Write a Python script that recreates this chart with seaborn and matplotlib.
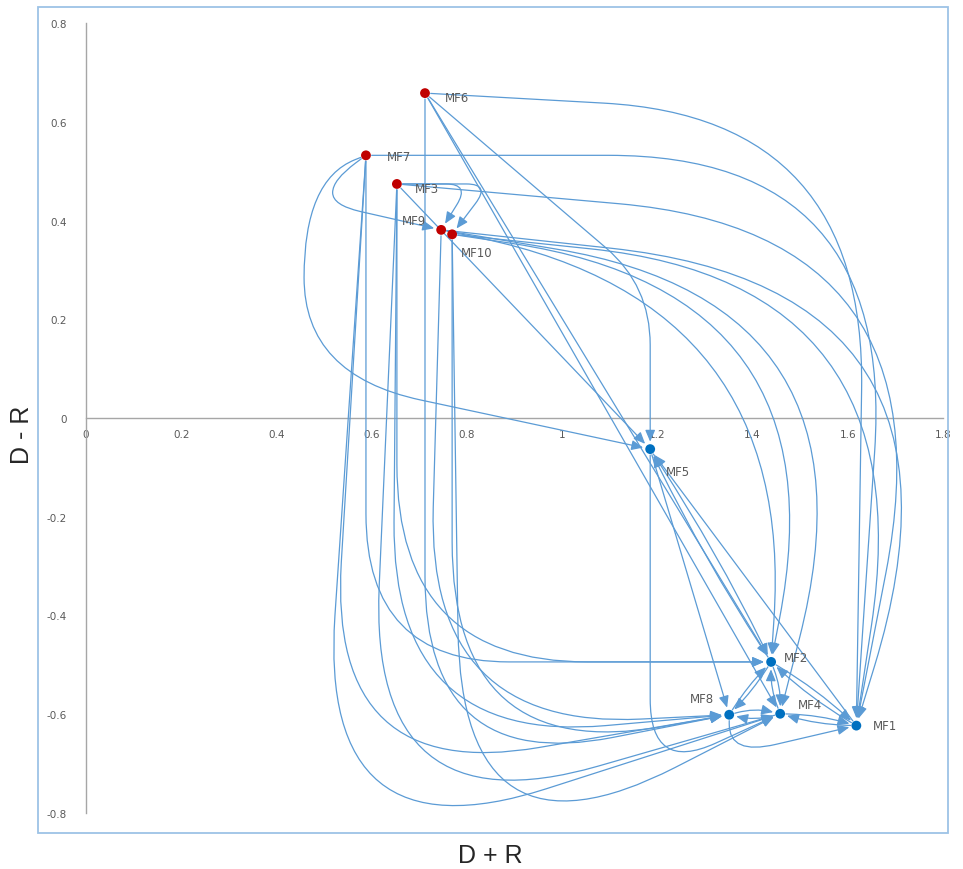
import numpy as np
import pandas as pd
import matplotlib
matplotlib.use("Agg")
import matplotlib.pyplot as plt
from matplotlib.patches import FancyArrowPatch, Rectangle
from matplotlib.path import Path
from matplotlib.ticker import FuncFormatter
import seaborn as sns

# DEMATEL cause-effect values
factors = ["MF1", "MF2", "MF3", "MF4", "MF5", "MF6", "MF7", "MF8", "MF9", "MF10"]
d_plus_r = [1.618, 1.439, 0.653, 1.458, 1.185, 0.712, 0.588, 1.351, 0.746, 0.769]
d_minus_r = [-0.623, -0.494, 0.474, -0.599, -0.063, 0.658, 0.532, -0.601, 0.381, 0.372]
group = ["Cause" if v > 0 else "Effect" for v in d_minus_r]

# influence relations (source -> target)
edges = [
    ("MF6", "MF5"), ("MF6", "MF2"), ("MF6", "MF4"), ("MF6", "MF1"), ("MF6", "MF8"),
    ("MF7", "MF5"), ("MF7", "MF9"), ("MF7", "MF2"), ("MF7", "MF8"), ("MF7", "MF4"), ("MF7", "MF1"),
    ("MF3", "MF9"), ("MF3", "MF10"), ("MF3", "MF8"), ("MF3", "MF2"), ("MF3", "MF4"),
    ("MF3", "MF1"), ("MF3", "MF5"),
    ("MF9", "MF2"), ("MF9", "MF4"), ("MF9", "MF1"), ("MF9", "MF8"),
    ("MF10", "MF2"), ("MF10", "MF4"), ("MF10", "MF1"), ("MF10", "MF8"),
    ("MF5", "MF8"), ("MF5", "MF2"), ("MF2", "MF5"), ("MF1", "MF5"), ("MF5", "MF4"),
    ("MF2", "MF8"), ("MF8", "MF2"), ("MF2", "MF4"), ("MF4", "MF2"),
    ("MF2", "MF1"), ("MF1", "MF2"), ("MF4", "MF8"), ("MF8", "MF4"),
    ("MF4", "MF1"), ("MF1", "MF4"), ("MF8", "MF1"),
]

# how each connector is routed (drawing only)
routes = [
    ("hv", dict(e=0.0, s=0.39, r=0.12)), ("line", {}), ("line", {}),
    ("hv", dict(e=0.02, s=0.05, r=0.55)), ("vh", dict(l=0.0, dep=0.12, r=0.4)),
    ("loop", dict(L=0.13, h=0.15, r=0.25)), ("loop", dict(L=0.07, h=0.05, r=0.06)),
    ("vh", dict(l=0.0, dep=0.0, r=0.3)), ("vh", dict(l=0.08, dep=0.14, r=0.45)),
    ("vh", dict(l=0.1, dep=0.3, r=0.5)), ("hv", dict(e=0.08, s=0.0, r=0.6)),
    ("hv", dict(e=0.06, s=0.0, r=0.05)), ("hv", dict(e=0.08, s=0.0, r=0.05)),
    ("vh", dict(l=0.01, dep=0.06, r=0.45)), ("vh", dict(l=0.0, dep=0.0, r=0.4)),
    ("vh", dict(l=0.06, dep=0.24, r=0.5)), ("hv", dict(e=0.2, s=0.1, r=0.7)),
    ("line", {}),
    ("hv", dict(e=0.05, s=0.15, r=0.7)), ("hv", dict(e=0.22, s=0.15, r=0.7)),
    ("hv", dict(e=0.28, s=0.12, r=0.8)), ("vh", dict(l=0.03, dep=0.03, r=0.45)),
    ("hv", dict(e=0.15, s=0.12, r=0.7)), ("vh", dict(l=-0.02, dep=0.33, r=0.5)),
    ("hv", dict(e=0.14, s=0.1, r=0.7)), ("vh", dict(l=0.0, dep=0.1, r=0.45)),
    ("line", {}), ("arc", dict(rad=0.03)), ("arc", dict(rad=0.03)), ("line", {}),
    ("vh", dict(l=0.0, dep=0.12, r=0.15)),
    ("arc", dict(rad=0.05)), ("arc", dict(rad=0.05)), ("arc", dict(rad=0.1)), ("arc", dict(rad=0.1)),
    ("arc", dict(rad=0.05)), ("arc", dict(rad=0.05)), ("arc", dict(rad=0.12)), ("arc", dict(rad=0.12)),
    ("arc", dict(rad=0.06)), ("arc", dict(rad=0.06)), ("vh", dict(l=0.0, dep=0.06, r=0.1)),
]

# label offsets in points (dx, dy, ha)
label_pos = {
    "MF1": (12, 0, "left"), "MF2": (9, 3, "left"), "MF3": (13, -3, "left"),
    "MF4": (13, 7, "left"), "MF5": (11, -16, "left"), "MF6": (14, -3, "left"),
    "MF7": (15, -1, "left"), "MF8": (-11, 12, "right"), "MF9": (-11, 7, "right"),
    "MF10": (6, -13, "left"),
}

df = pd.DataFrame({"factor": factors, "D+R": d_plus_r, "D-R": d_minus_r, "group": group})
pos = {f: np.array([x, y]) for f, x, y in zip(factors, d_plus_r, d_minus_r)}

line_col = "#5B9BD5"


def waypoints(kind, A, B, p):
    if kind == "line":
        return [A, B]
    if kind == "arc":
        d = B - A
        n = np.array([-d[1], d[0]])
        return [A, A + d / 2 + n * p["rad"], B]
    if kind == "vh":
        return [A, np.array([A[0] - p["l"], B[1] - p["dep"]]), B]
    if kind == "hv":
        return [A, np.array([B[0] + p["e"], A[1] - p["s"]]), B]
    if kind == "loop":
        x = A[0] - p["L"]
        return [A, np.array([x, A[1] - 0.05]), np.array([x, B[1] + p["h"]]), B]


def rounded_path(pts, r, sA=0.012, sB=0.015):
    pts = [np.asarray(q, float) for q in pts]
    u = (pts[1] - pts[0]) / np.linalg.norm(pts[1] - pts[0])
    pts[0] = pts[0] + u * sA
    u = (pts[-1] - pts[-2]) / np.linalg.norm(pts[-1] - pts[-2])
    pts[-1] = pts[-1] - u * sB
    verts, codes = [pts[0]], [Path.MOVETO]
    n = len(pts)
    for i in range(1, n - 1):
        Q, P, R = pts[i - 1], pts[i], pts[i + 1]
        lq, lr = np.linalg.norm(Q - P), np.linalg.norm(R - P)
        d1 = min(r, lq * (0.9 if i == 1 else 0.5))
        d2 = min(r, lr * (0.9 if i == n - 2 else 0.5))
        P1 = P + (Q - P) / lq * d1
        P2 = P + (R - P) / lr * d2
        verts += [P1, P, P2]
        codes += [Path.LINETO, Path.CURVE3, Path.CURVE3]
    verts.append(pts[-1])
    codes.append(Path.LINETO)
    return Path(np.array(verts), codes)


sns.set_theme(style="white")
fig = plt.figure(figsize=(9.63, 8.70), dpi=100)
ax = fig.add_axes([86 / 963, 56 / 870, 857 / 963, 790 / 870])

for (src, tgt), (kind, p) in zip(edges, routes):
    pts = waypoints(kind, pos[src], pos[tgt], p)
    r = p.get("r", 1.0)
    arrow = FancyArrowPatch(path=rounded_path(pts, r),
                            arrowstyle="-|>,head_length=0.7,head_width=0.3",
                            mutation_scale=10, color=line_col, lw=0.9, zorder=3)
    ax.add_patch(arrow)

sns.scatterplot(data=df, x="D+R", y="D-R", hue="group",
                palette={"Cause": "#C00000", "Effect": "#0070C0"},
                s=50, edgecolor="none", legend=False, zorder=5, ax=ax)

for f in factors:
    dx, dy, ha = label_pos[f]
    ax.annotate(f, pos[f], xytext=(dx, dy), textcoords="offset points",
                ha=ha, va="center", fontsize=8.5, color="#595959", zorder=6)

ax.set_xlim(0, 1.8)
ax.set_ylim(-0.8, 0.8)
ax.set_xticks(np.arange(0, 1.81, 0.2))
ax.set_yticks(np.arange(-0.8, 0.81, 0.2))
fmt = FuncFormatter(lambda v, _: "0" if abs(v) < 1e-9 else f"{round(v, 1):g}")
ax.xaxis.set_major_formatter(fmt)
ax.yaxis.set_major_formatter(fmt)
ax.tick_params(length=0, colors="#595959", labelsize=7.5)
ax.tick_params(axis="x", pad=8)
ax.tick_params(axis="y", pad=14)
ax.spines["left"].set_position(("data", 0))
ax.spines["bottom"].set_position(("data", 0))
ax.spines["top"].set_visible(False)
ax.spines["right"].set_visible(False)
for s in ("left", "bottom"):
    ax.spines[s].set_color("#A6A6A6")
    ax.spines[s].set_linewidth(1.0)
ax.set_xlabel("")
ax.set_ylabel("")
ax.patch.set_alpha(0)

fig.add_artist(Rectangle((38 / 963, 36 / 870), 910 / 963, 826 / 870,
                         transform=fig.transFigure, fill=False,
                         ec="#9DC3E6", lw=1.3))

lab_font = ["Liberation Sans", "DejaVu Sans"]
fig.text(490 / 963, 1 - 856 / 870, "D + R", ha="center", va="center",
         fontsize=18, family=lab_font)
fig.text(22 / 963, 1 - 435 / 870, "D - R", ha="center", va="center",
         rotation=90, fontsize=18, family=lab_font)

fig.savefig("out.png", dpi=100)
